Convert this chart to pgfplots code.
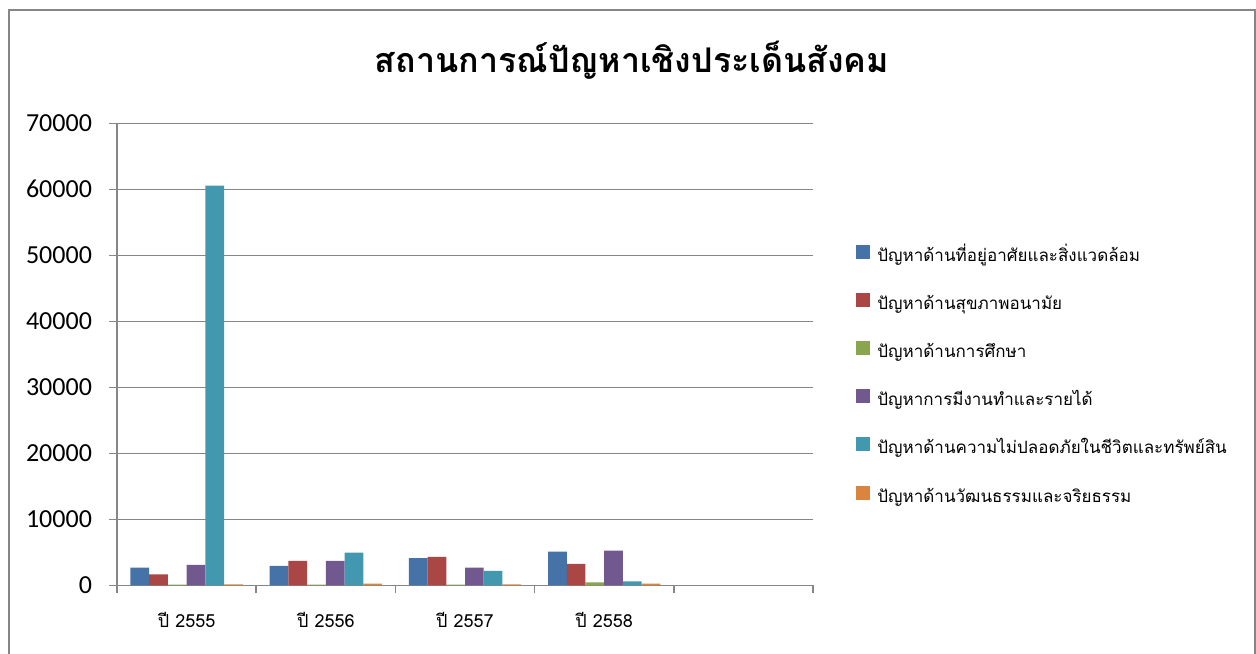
\documentclass[border=0pt]{standalone}
\usepackage{fontspec}
\usepackage{pgfplots}
\pgfplotsset{compat=1.18}
\setmainfont[Script=Thai]{Loma}
\newfontfamily\numfont{Carlito}
\definecolor{cA}{HTML}{4572A7}
\definecolor{cB}{HTML}{AA4643}
\definecolor{cC}{HTML}{89A54E}
\definecolor{cD}{HTML}{71588F}
\definecolor{cE}{HTML}{4198AF}
\definecolor{cF}{HTML}{DB843D}
\definecolor{gridc}{HTML}{868686}
\begin{document}
\begin{tikzpicture}
\useasboundingbox (0,0) rectangle (628pt,326.5pt);
\draw[gridc, line width=0.9pt] (4.5pt,-5pt) -- (4.5pt,321.5pt) -- (627.3pt,321.5pt) -- (627.3pt,-5pt);
\node[font=\fontsize{17}{20}\selectfont\bfseries] at (316pt,296.5pt) {สถานการณ์ปัญหาเชิงประเด็นสังคม};
\begin{axis}[
  at={(58.5pt,33.85pt)}, anchor=south west,
  scale only axis, width=348pt, height=231pt,
  xmin=-0.5, xmax=4.5, ymin=0, ymax=70000,
  ybar=0pt, bar width=0.1345,
  axis x line*=bottom, axis y line*=left,
  axis line style={gridc, line width=0.8pt},
  every outer x axis line/.append style={-}, every outer y axis line/.append style={-},
  xtick={0,1,2,3}, xticklabels={ปี 2555,ปี 2556,ปี 2557,ปี 2558},
  xtick style={draw=none},
  xticklabel style={font=\fontsize{9}{10}\selectfont, yshift=-6pt},
  extra x ticks={-0.5,0.5,1.5,2.5,3.5,4.5}, extra x tick labels={},
  extra x tick style={xtick style={draw=gridc, line width=0.8pt}, tick align=outside, major tick length=4pt, grid=none},
  ytick={0,10000,...,70000},
  scaled y ticks=false,
  yticklabel style={font=\fontsize{13}{14}\selectfont\numfont, xshift=-5pt},
  yticklabel={\pgfmathprintnumber[fixed,1000 sep={}]{\tick}},
  ytick style={draw=gridc, line width=0.8pt}, tick align=outside, major tick length=4pt,
  ymajorgrids, major grid style={gridc, line width=0.8pt},
  legend cell align=left,
  legend style={at={(1.0618,0.4544)}, anchor=west, draw=none, fill=none, inner sep=0pt,
    row sep=13.8pt, column sep=0pt,
    nodes={inner sep=0pt, text height=7pt, text depth=2pt, font=\fontsize{8.5}{10}\selectfont}},
  legend image code/.code={\fill[#1,draw=none] (0pt,-1.2pt) rectangle (7pt,5.8pt);},
  /pgf/number format/assume math mode=true,
]
\addplot[fill=cA, draw=none] coordinates {(0,2680) (1,2930) (2,4100) (3,5110)};
\addplot[fill=cB, draw=none] coordinates {(0,1670) (1,3690) (2,4300) (3,3240)};
\addplot[fill=cC, draw=none] coordinates {(0,100) (1,120) (2,120) (3,450)};
\addplot[fill=cD, draw=none] coordinates {(0,3080) (1,3690) (2,2680) (3,5260)};
\addplot[fill=cE, draw=none] coordinates {(0,60550) (1,4960) (2,2180) (3,610)};
\addplot[fill=cF, draw=none] coordinates {(0,130) (1,250) (2,150) (3,250)};
\legend{\hspace{3.5pt}ปัญหาด้านที่อยู่อาศัยและสิ่งแวดล้อม,
  \hspace{3.5pt}ปัญหาด้านสุขภาพอนามัย,
  \hspace{3.5pt}ปัญหาด้านการศึกษา,
  \hspace{3.5pt}ปัญหาการมีงานทำและรายได้,
  \hspace{3.5pt}ปัญหาด้านความไม่ปลอดภัยในชีวิตและทรัพย์สิน,
  \hspace{3.5pt}ปัญหาด้านวัฒนธรรมและจริยธรรม}
\end{axis}
\end{tikzpicture}
\end{document}
